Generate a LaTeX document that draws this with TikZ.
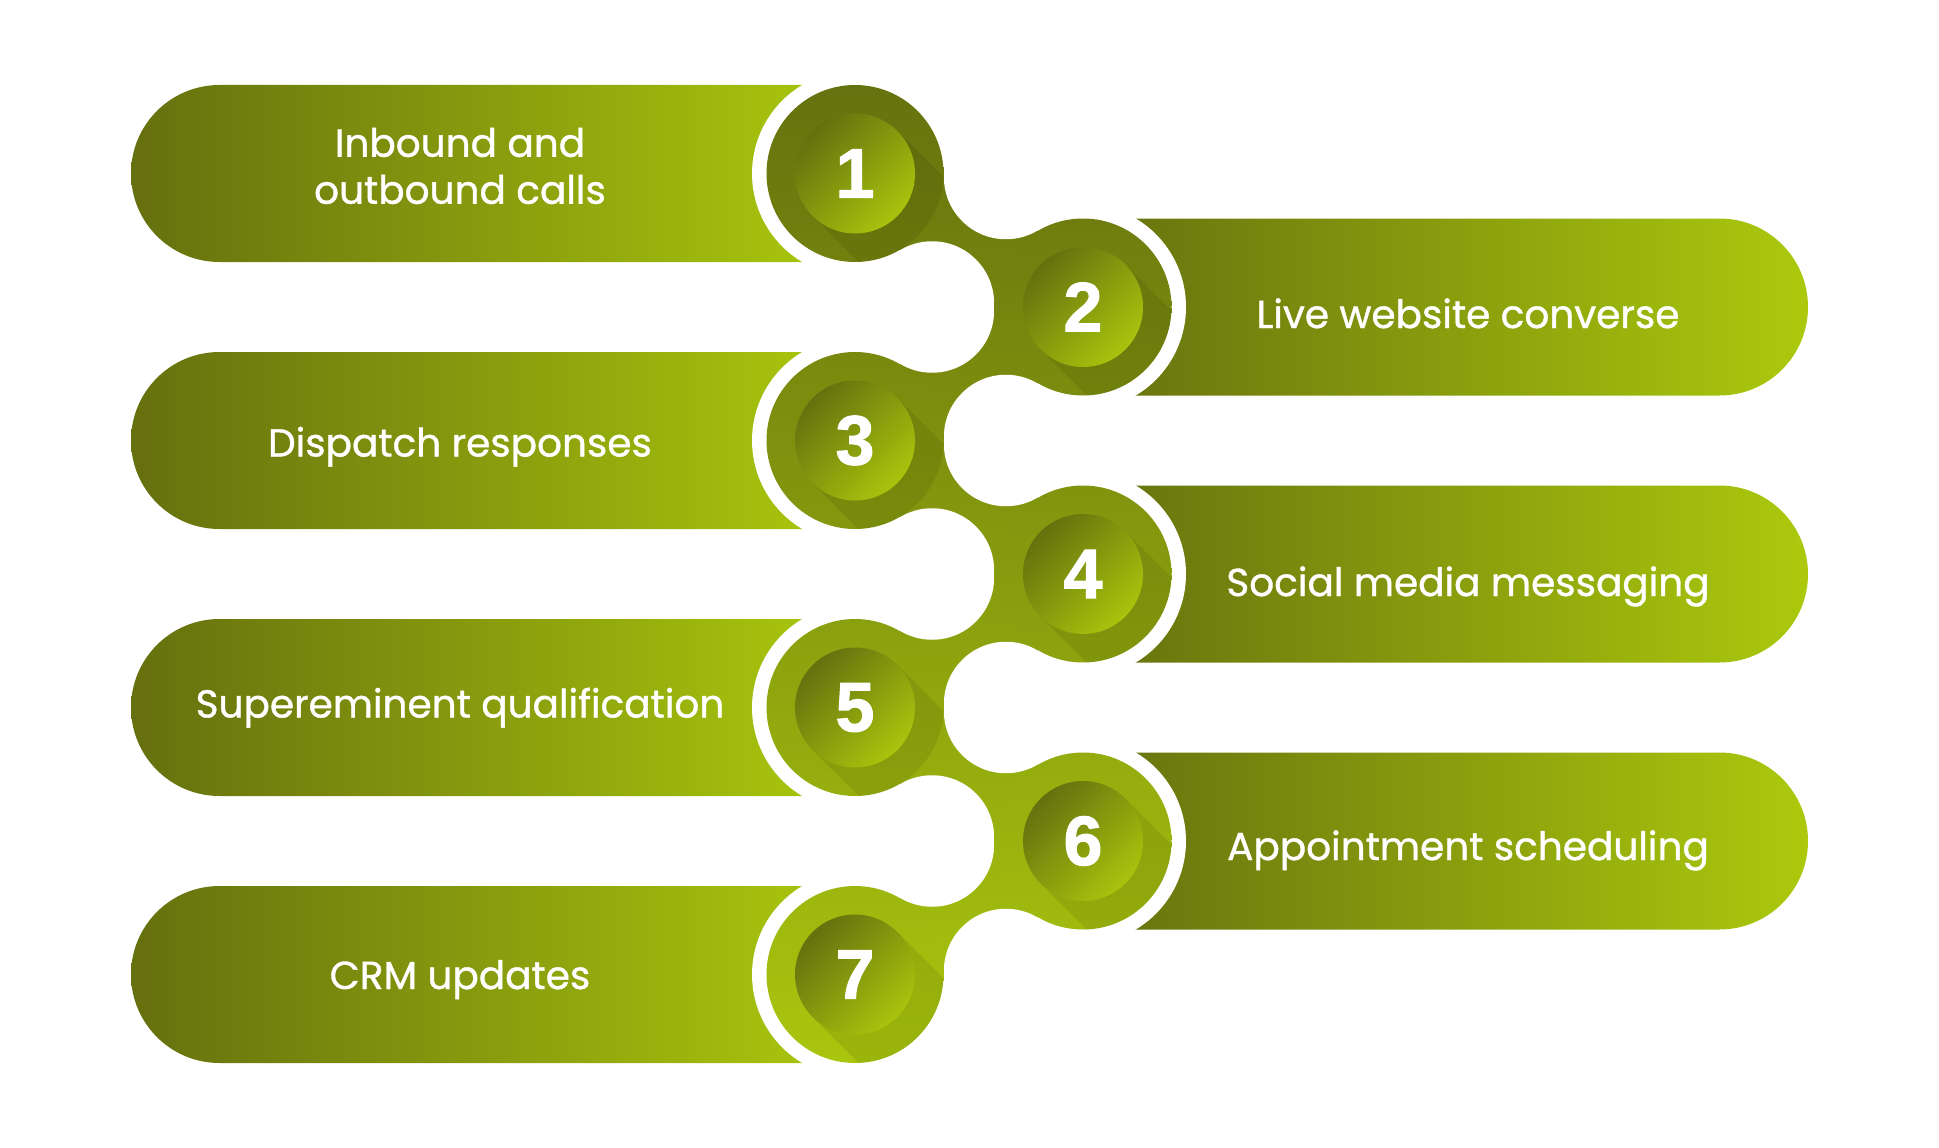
\documentclass[tikz,border=0pt]{standalone}
\usepackage{fontspec}
\setmainfont{Poppins}
\newfontfamily\labelfont{Poppins}[FakeBold=1]
\newfontfamily\numfont{Liberation Sans}[BoldFeatures={FakeBold=1.5}]
\usepackage{tikz}
\usetikzlibrary{calc}
\definecolor{barDark}{HTML}{65700E}
\definecolor{barBright}{HTML}{ACC90D}
\definecolor{snakeTop}{HTML}{66720E}
\definecolor{snakeBot}{HTML}{AAC60E}
\definecolor{innerDark}{HTML}{65710E}
\definecolor{innerBright}{HTML}{A8C40D}

\begin{document}
\begin{tikzpicture}[x=1pt,y=1pt,
    label/.style={text=white, font=\labelfont\fontsize{39}{47}\selectfont, align=center},
    number/.style={text=white, font=\numfont\bfseries\fontsize{70}{70}\selectfont},
    ring/.style={fill=white},
    cut/.style={fill=white},
    longshadow/.style={fill=black, opacity=0.08}]
  \useasboundingbox (0,0) rectangle (1939,-1148);
  \foreach \i in {1,...,7} {
    \pgfmathsetmacro{\yy}{-173.5-133.5*(\i-1)}
    \pgfmathsetmacro{\xx}{isodd(\i) ? 855 : 1083}
    \coordinate (p\i) at (\xx,\yy);
    \ifodd\i
      \shade[left color=barDark, right color=barBright] (855,\yy+88.5) -- (219.5,\yy+88.5)
        arc[start angle=90, end angle=270, radius=88.5pt] -- (855,\yy-88.5) -- cycle;
    \else
      \shade[left color=barDark, right color=barBright] (1083,\yy+88.5) -- (1719.5,\yy+88.5)
        arc[start angle=90, end angle=-90, radius=88.5pt] -- (1083,\yy-88.5) -- cycle;
    \fi
  }
  \foreach \i in {1,...,7}
    \fill[ring] (p\i) circle[radius=103pt];
  \foreach \i [evaluate=\i as \j using int(\i+1)] in {1,...,6} {
    \pgfmathsetmacro{\yy}{-173.5-133.5*(\i-1)-66.75}
    \pgfmathsetmacro{\s}{isodd(\i) ? 1 : -1}
    \pgfmathtruncatemacro{\pa}{((\i-1)*133.5+88.5)/9.78}
    \pgfmathtruncatemacro{\pb}{(\i*133.5+88.5)/9.78}
    \shade[top color=snakeBot!\pa!snakeTop, bottom color=snakeBot!\pb!snakeTop]
      (p\i) -- (1005.9,\yy+63*\s) -- (p\j) -- (932.1,\yy-63*\s) -- cycle;
  }
  \foreach \i in {1,...,6} {
    \pgfmathsetmacro{\yy}{-173.5-133.5*(\i-1)-66.75}
    \pgfmathsetmacro{\s}{isodd(\i) ? 1 : -1}
    \fill[cut] (1005.9,\yy+63*\s) circle[radius=62pt] (932.1,\yy-63*\s) circle[radius=62pt];
  }
  \foreach \i in {1,...,7} {
    \pgfmathtruncatemacro{\pa}{(\i-1)*133.5/9.78}
    \pgfmathtruncatemacro{\pb}{\pa+18}
    \shade[top color=snakeBot!\pa!snakeTop, bottom color=snakeBot!\pb!snakeTop] (p\i) circle[radius=88.5pt];
    \begin{scope}
      \clip (p\i) circle[radius=88.5pt];
      \fill[longshadow] ($(p\i)+(42.4,42.4)$) -- ++(160,-160) -- ++(-84.8,-84.8)
        -- ($(p\i)+(-42.4,-42.4)$) -- cycle;
    \end{scope}
    \shade[top color=innerDark, bottom color=innerBright, shading angle=45] (p\i) circle[radius=60pt];
    \node[number] (n\i) at (p\i) {\i};
  }
  \node[label] (t1) at ($(p1)+(-395,7.5)$) {Inbound and\\outbound calls};
  \foreach \i/\dy/\txt in {3/16/{Dispatch responses}, 5/10/{Supereminent qualification},
      7/14.5/{CRM updates}}
    \node[label, anchor=base] (t\i) at ($(p\i)+(-395,-\dy)$) {\txt};
  \foreach \i/\dy/\txt in {2/21/{Live website converse}, 4/22/{Social media messaging},
      6/19/{Appointment scheduling}}
    \node[label, anchor=base] (t\i) at ($(p\i)+(385,-\dy)$) {\txt};
\end{tikzpicture}
\end{document}
